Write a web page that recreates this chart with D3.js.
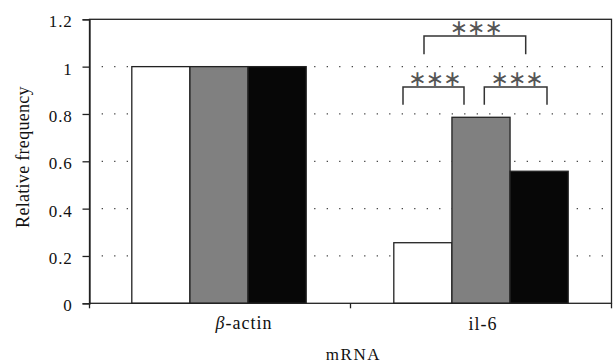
<!DOCTYPE html>
<html><head><meta charset="utf-8">
<script src="https://cdn.jsdelivr.net/npm/d3@7"></script>
<style>body{margin:0;background:#fff}svg{display:block}
.serif{font-family:"Liberation Serif","Times New Roman","DejaVu Serif",serif}
.star{font-family:"DejaVu Sans",sans-serif}
</style>
</head><body>
<svg id="c" width="613" height="364"></svg>
<script>
const categories = ["β-actin", "il-6"];
const seriesNames = ["A", "B", "C"];
const values = [
  [1.0, 1.0, 1.0],
  [0.256, 0.786, 0.558]
];
const seriesColors = ["#ffffff", "#808080", "#070707"];
const yTicks = [0, 0.2, 0.4, 0.6, 0.8, 1.0, 1.2];
const yTickLabels = ["0", "0.2", "0.4", "0.6", "0.8", "1", "1.2"];
const bracketLabels = ["∗∗∗", "∗∗∗", "∗∗∗"];

const svg = d3.select("#c");
const m = {l: 89.5, r: 611.5, t: 19.3, b: 303.3};

const x = d3.scaleBand().domain(categories).range([m.l, m.r]).paddingInner(0).paddingOuter(0);
const y = d3.scaleLinear().domain([0, 1.2]).range([m.b, m.t]);
const inner = d3.scaleBand().domain(seriesNames).range([0, x.bandwidth()]).paddingOuter(0.745).paddingInner(0);

// grid
svg.append("g").selectAll("line").data(yTicks.filter(v => v > 0 && v < 1.2)).join("line")
  .attr("x1", m.l + 12.2).attr("x2", m.r).attr("y1", d => y(d)).attr("y2", d => y(d))
  .attr("stroke", "#333").attr("stroke-width", 1.2).attr("stroke-dasharray", "1.2,11.3");

// bars
categories.forEach((c, ci) => {
  svg.append("g").selectAll("rect").data(values[ci]).join("rect")
    .attr("x", (d, i) => x(c) + inner(seriesNames[i]) + (ci === 0 ? -1 : 0))
    .attr("width", inner.bandwidth())
    .attr("y", d => y(d)).attr("height", d => y(0) - y(d))
    .attr("fill", (d, i) => seriesColors[i])
    .attr("stroke", "#222").attr("stroke-width", 1.3);
});

// frame
svg.append("rect").attr("x", m.l).attr("y", m.t).attr("width", m.r - m.l).attr("height", m.b - m.t)
  .attr("fill", "none").attr("stroke", "#222").attr("stroke-width", 1.3);

// y axis
const ya = svg.append("g").attr("transform", `translate(${m.l},0)`)
  .call(d3.axisLeft(y).tickValues(yTicks).tickFormat((d, i) => yTickLabels[i]).tickSize(7).tickPadding(10));
ya.attr("font-family", null).attr("font-size", null);
ya.select(".domain").attr("stroke", "#222").attr("stroke-width", 1.3);
ya.selectAll(".tick line").attr("stroke", "#222").attr("stroke-width", 1.3);
ya.selectAll("text").attr("class", "serif").attr("dy", "0.45em").style("font-size", "17px")
  .attr("letter-spacing", 0.8).attr("fill", "#111");

// x axis ticks at boundaries
const bounds = [m.l, m.l + x.bandwidth(), m.r];
svg.append("g").selectAll("line").data(bounds).join("line")
  .attr("x1", d => d).attr("x2", d => d).attr("y1", m.b).attr("y2", m.b + 5)
  .attr("stroke", "#222").attr("stroke-width", 1.3);

// x labels
const lab0 = svg.append("text").attr("class", "serif").attr("x", x(categories[0]) + x.bandwidth() / 2 + 24).attr("y", 328.5)
  .attr("text-anchor", "middle").style("font-size", "18px").attr("letter-spacing", 1).attr("fill", "#111");
lab0.append("tspan").attr("font-style", "italic").text("β");
lab0.append("tspan").text("-actin");
svg.append("text").attr("class", "serif").attr("x", x(categories[1]) + x.bandwidth() / 2 + 2).attr("y", 329.5)
  .attr("text-anchor", "middle").style("font-size", "18px").attr("letter-spacing", 1).attr("fill", "#111")
  .text(categories[1]);

svg.append("text").attr("class", "serif").attr("x", 353.5).attr("y", 359.5).attr("text-anchor", "middle")
  .style("font-size", "17px").attr("letter-spacing", 1.6).attr("fill", "#111").text("mRNA");
svg.append("text").attr("class", "serif").attr("transform", `translate(29,157) rotate(-90)`).attr("text-anchor", "middle")
  .style("font-size", "18px").attr("letter-spacing", 0.3).attr("fill", "#111").text("Relative frequency");

// brackets
const bdefs = [
  {x1: 424, x2: 525.7, ty: 36, by: 54.3},
  {x1: 403, x2: 464, ty: 87, by: 104.7},
  {x1: 484.3, x2: 547, ty: 87, by: 104.7}
];
bdefs.forEach((d, i) => {
  svg.append("path").attr("d", `M${d.x1},${d.by}V${d.ty}H${d.x2}V${d.by}`)
    .attr("fill", "none").attr("stroke", "#333").attr("stroke-width", 1.5);
  svg.append("text").attr("class", "star").attr("x", (d.x1 + d.x2) / 2 + 1).attr("y", d.ty - 1.5)
    .attr("text-anchor", "middle")
    .style("font-size", "22px").attr("letter-spacing", -1).attr("fill", "#555").text(bracketLabels[i]);
});
</script>
</body></html>
